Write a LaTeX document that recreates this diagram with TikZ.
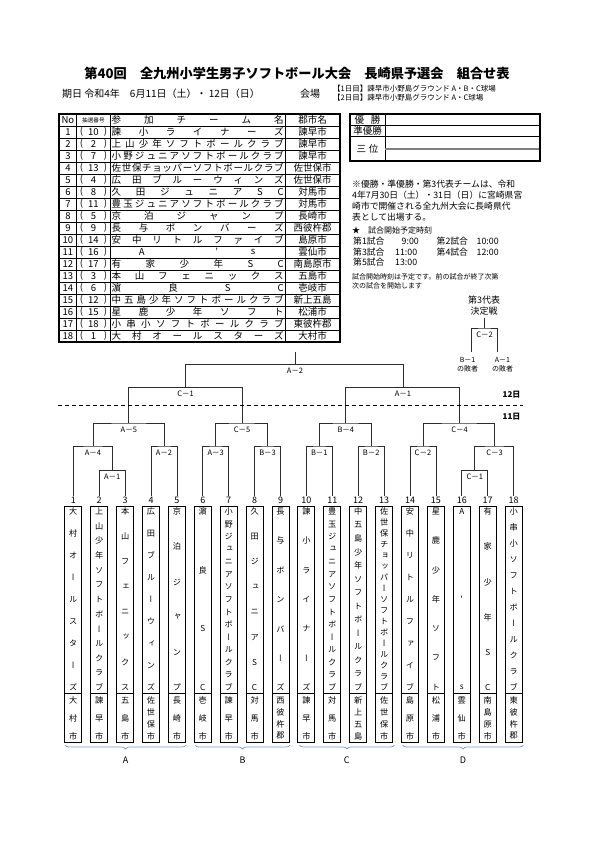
\documentclass[tikz,border=0pt]{standalone}
\usepackage{fontspec}
\setmainfont{Noto Sans CJK JP}
\newfontfamily\jpv[RawFeature={+vert}]{Noto Sans CJK JP}
\usetikzlibrary{calc,decorations.pathreplacing}
\definecolor{brc}{RGB}{125,155,195}
\definecolor{lc}{RGB}{45,45,45}
\def\sprloop#1{\ifx\relax#1\else#1\hfil\expandafter\sprloop\fi}
\newcommand\spr[2][172pt]{\hbox to #1{\sprloop#2\relax\unskip}}
\tikzset{
  tx/.style={inner sep=0pt, font=\fontsize{9.5}{10}\selectfont},
  smalltx/.style={inner sep=0pt, font=\fontsize{8.8}{9}\selectfont, anchor=west},
  br/.style={draw=lc, line width=0.8pt},
  ml/.style={inner sep=0pt, font=\fontsize{7.5}{8}\selectfont},
  num/.style={inner sep=0pt, font=\fontsize{9}{9}\selectfont},
  namebox/.style={draw=black, line width=1pt, minimum width=17pt, minimum height=187pt, inner sep=0pt},
  citybox/.style={draw=black, line width=1pt, minimum width=17pt, minimum height=49pt, inner sep=0pt},
  vch/.style={inner sep=0pt, font=\jpv\fontsize{8.2}{8}\selectfont},
  gridline/.style={draw=black, line width=0.7pt},
  frameline/.style={draw=black, line width=1.2pt},
}
\newcommand\vtext[5]{%
  \foreach \c [count=\n] in {#5} {\xdef\vcnt{\n}}%
  \foreach \c [count=\n] in {#5} {%
    \pgfmathsetmacro\yy{#3+(#4-#3)*(\n-1)/(\vcnt-1)}%
    \node[vch] (v#1-\n) at (#2,\yy) {\c};}%
}
\newcommand\team[3]{%
  \pgfmathsetmacro\tmx{73.3+25.9*(#1-1)}%
  \node[namebox] (b#1) at (\tmx,599.5) {};
  \node[citybox] (c#1) at (\tmx,717.5) {};
  \node[num] (n#1) at (\tmx,500.5) {#1};
  \coordinate (t#1) at (\tmx,496);
  \vtext{n#1}{\tmx}{511.5}{687.5}{#2}
  \vtext{c#1}{\tmx}{700.5}{736}{#3}
}
\newcommand\trow[4]{%
  \pgfmathsetmacro\yy{120+12*#1}%
  \node[tx] (no#1) at (67.9,\yy) {#1};
  \node[tx] (op#1) at (81.5,\yy) {(};
  \node[tx] (dn#1) at (93.4,\yy) {#2};
  \node[tx] (cp#1) at (105.5,\yy) {)};
  \node[tx,anchor=west] (nm#1) at (111.5,\yy) {#3};
  \node[tx] (ct#1) at (312.5,\yy) {#4};
}
\begin{document}
\begin{tikzpicture}[x=1pt,y=-1pt]
\useasboundingbox (0,0) rectangle (595,842);
\fill[white] (0,0) rectangle (595,842);
% title
\node[inner sep=0pt, font=\bfseries\fontsize{13.2}{14}\selectfont] (title) at (297,73) {第40回　全九州小学生男子ソフトボール大会　長崎県予選会　組合せ表};
\node[inner sep=0pt, anchor=west, font=\fontsize{10}{10}\selectfont] (date) at (62,94) {期日 令和4年　6月11日（土）・ 12日（日）};
\node[inner sep=0pt, anchor=west, font=\fontsize{10}{10}\selectfont] (venue) at (300,94) {会場};
\node[inner sep=0pt, anchor=west, font=\fontsize{7.5}{8}\selectfont] (v1) at (333,88.5) {【1日目】諫早市小野島グラウンド A・B・C球場};
\node[inner sep=0pt, anchor=west, font=\fontsize{7.5}{8}\selectfont] (v2) at (333,98) {【2日目】諫早市小野島グラウンド A・C球場};
% table grid
\foreach \k in {1,...,18} {\draw[gridline] (59,{114+12*\k}) -- (340,{114+12*\k});}
\foreach \xx in {76.7,110,285} {\draw[gridline] (\xx,114) -- (\xx,342);}
\draw[frameline] (59,114) rectangle (340,342);
% header
\node[tx] (hno) at (67.9,120) {No};
\node[inner sep=0pt, font=\fontsize{5.6}{6}\selectfont] (hdn) at (93.4,120) {抽選番号};
\node[tx,anchor=west] (hnm) at (111.5,120) {\spr{参加チーム名}};
\node[tx] (hct) at (312.5,120) {郡市名};
% rows
\trow{1}{10}{\spr{諫小ライナーズ}}{諫早市}
\trow{2}{2}{\spr{上山少年ソフトボールクラブ}}{諫早市}
\trow{3}{7}{\spr{小野ジュニアソフトボールクラブ}}{諫早市}
\trow{4}{13}{\spr{佐世保チョッパーソフトボールクラブ}}{佐世保市}
\trow{5}{4}{\spr{広田ブルーウィンズ}}{佐世保市}
\trow{6}{8}{\spr{久田ジュニアSC}}{対馬市}
\trow{7}{11}{\spr{豊玉ジュニアソフトボールクラブ}}{対馬市}
\trow{8}{5}{\spr{京泊ジャンプ}}{長崎市}
\trow{9}{9}{\spr{長与ボンバーズ}}{西彼杵郡}
\trow{10}{14}{\spr{安中リトルファイブ}}{島原市}
\trow{11}{16}{}{雲仙市}
\node[tx] (r11a) at (141.7,252) {A};
\node[tx] (r11b) at (216.7,252) {'};
\node[tx] (r11c) at (253,252) {s};
\trow{12}{17}{\spr{有家少年SC}}{南島原市}
\trow{13}{3}{\spr{本山フェニックス}}{五島市}
\trow{14}{6}{\spr{濵良SC}}{壱岐市}
\trow{15}{12}{\spr{中五島少年ソフトボールクラブ}}{新上五島}
\trow{16}{15}{\spr{星鹿少年ソフト}}{松浦市}
\trow{17}{18}{\spr{小串小ソフトボールクラブ}}{東彼杵郡}
\trow{18}{1}{\spr{大村オールスターズ}}{大村市}
% result box
\draw[gridline] (350,125) -- (540,125);
\draw[gridline] (350,136) -- (540,136);
\draw[gridline] (385,114) -- (385,161);
\draw[draw=gray, line width=1.8pt] (385,149) -- (540,149);
\draw[frameline] (350,114) rectangle (540,161);
\node[tx] (w1) at (367.5,119.5) {\spr[26pt]{優勝}};
\node[tx] (w2) at (367.5,130.5) {準優勝};
\node[tx] (w3) at (367.5,148.5) {\spr[22pt]{三位}};
% notes
\node[smalltx] (n1) at (352,184) {※優勝・準優勝・第3代表チームは、令和};
\node[smalltx] (n2) at (352,195) {4年7月30日（土）・31日（日）に宮崎県宮};
\node[smalltx] (n3) at (352,206) {崎市で開催される全九州大会に長崎県代};
\node[smalltx] (n4) at (352,217) {表として出場する。};
\node[smalltx, font=\fontsize{8}{8}\selectfont] (s0) at (352,230) {★　試合開始予定時刻};
\node[smalltx] (s1) at (353,241.5) {第1試合};
\node[smalltx] (s1t) at (401.5,241.5) {9:00};
\node[smalltx] (s2) at (436.5,241.5) {第2試合};
\node[smalltx] (s2t) at (476.5,241.5) {10:00};
\node[smalltx] (s3) at (353,252) {第3試合};
\node[smalltx] (s3t) at (395,252) {11:00};
\node[smalltx] (s4) at (436.5,252) {第4試合};
\node[smalltx] (s4t) at (476.5,252) {12:00};
\node[smalltx] (s5) at (353,262.5) {第5試合};
\node[smalltx] (s5t) at (395,262.5) {13:00};
\node[smalltx, font=\fontsize{7}{7}\selectfont] (p1) at (352,276.5) {試合開始時刻は予定です。前の試合が終了次第};
\node[smalltx, font=\fontsize{7}{7}\selectfont] (p2) at (352,285.5) {次の試合を開始します};
% third place match
\node[inner sep=0pt, font=\fontsize{9}{9}\selectfont] (tp1) at (484,300) {第3代表};
\node[inner sep=0pt, font=\fontsize{9}{9}\selectfont] (tp2) at (484,311.5) {決定戦};
\coordinate (tptop) at (484.5,318);
\coordinate (tpc) at (484.5,328);
\coordinate (tpl) at (471.7,352);
\coordinate (tpr) at (497.3,352);
\draw[br] (tpl) |- (tpc) -| (tpr);
\draw[br] (tpc) -- (tptop);
\node[ml] (tpm) at (484.5,335) {C－2};
\node[ml, font=\fontsize{7}{7}\selectfont] (tpa) at (467.5,359.5) {B－1};
\node[ml, font=\fontsize{7}{7}\selectfont] (tpb) at (467.5,369) {の敗者};
\node[ml, font=\fontsize{7}{7}\selectfont] (tpc1) at (502.5,359.5) {A－1};
\node[ml, font=\fontsize{7}{7}\selectfont] (tpd) at (502.5,369) {の敗者};
% teams
\team{1}{大,村,オ,ー,ル,ス,タ,ー,ズ}{大,村,市}
\team{2}{上,山,少,年,ソ,フ,ト,ボ,ー,ル,ク,ラ,ブ}{諫,早,市}
\team{3}{本,山,フ,ェ,ニ,ッ,ク,ス}{五,島,市}
\team{4}{広,田,ブ,ル,ー,ウ,ィ,ン,ズ}{佐,世,保,市}
\team{5}{京,泊,ジ,ャ,ン,プ}{長,崎,市}
\team{6}{濵,良,S,C}{壱,岐,市}
\team{7}{小,野,ジ,ュ,ニ,ア,ソ,フ,ト,ボ,ー,ル,ク,ラ,ブ}{諫,早,市}
\team{8}{久,田,ジ,ュ,ニ,ア,S,C}{対,馬,市}
\team{9}{長,与,ボ,ン,バ,ー,ズ}{西,彼,杵,郡}
\team{10}{諫,小,ラ,イ,ナ,ー,ズ}{諫,早,市}
\team{11}{豊,玉,ジ,ュ,ニ,ア,ソ,フ,ト,ボ,ー,ル,ク,ラ,ブ}{対,馬,市}
\team{12}{中,五,島,少,年,ソ,フ,ト,ボ,ー,ル,ク,ラ,ブ}{新,上,五,島}
\team{13}{佐,世,保,チ,ョ,ッ,パ,ー,ソ,フ,ト,ボ,ー,ル,ク,ラ,ブ}{佐,世,保,市}
\team{14}{安,中,リ,ト,ル,フ,ァ,イ,ブ}{島,原,市}
\team{15}{星,鹿,少,年,ソ,フ,ト}{松,浦,市}
\team{16}{A,',s}{雲,仙,市}
\team{17}{有,家,少,年,S,C}{南,島,原,市}
\team{18}{小,串,小,ソ,フ,ト,ボ,ー,ル,ク,ラ,ブ}{東,彼,杵,郡}
% match points
\coordinate (mA1L) at (112.15,470.7);
\coordinate (mC1L) at (474.75,470.7);
\coordinate (mA4) at (92.9,446);
\coordinate (mA2L) at (163.95,446);
\coordinate (mA3) at (215.75,446);
\coordinate (mB3) at (267.55,446);
\coordinate (mB1) at (319.35,446);
\coordinate (mB2) at (371.15,446);
\coordinate (mC2) at (422.95,446);
\coordinate (mC3) at (494.6,446);
\coordinate (mA5) at (128.8,423);
\coordinate (mC5) at (242,423);
\coordinate (mB4) at (345.8,423);
\coordinate (mC4) at (459.5,423);
\coordinate (mC1U) at (185.6,387.7);
\coordinate (mA1U) at (403,387.7);
\coordinate (mA2U) at (295,364.3);
\coordinate (mtop) at (295,352);
\draw[br] (t2) |- (mA1L) -| (t3);
\draw[br] (t16) |- (mC1L) -| (t17);
\draw[br] (t1) |- (mA4) -| (mA1L);
\draw[br] (t4) |- (mA2L) -| (t5);
\draw[br] (t6) |- (mA3) -| (t7);
\draw[br] (t8) |- (mB3) -| (t9);
\draw[br] (t10) |- (mB1) -| (t11);
\draw[br] (t12) |- (mB2) -| (t13);
\draw[br] (t14) |- (mC2) -| (t15);
\draw[br] (mC1L) |- (mC3) -| (t18);
\draw[br] (mA4) |- (mA5) -| (mA2L);
\draw[br] (mA3) |- (mC5) -| (mB3);
\draw[br] (mB1) |- (mB4) -| (mB2);
\draw[br] (mC2) |- (mC4) -| (mC3);
\draw[br] (mA5) |- (mC1U) -| (mC5);
\draw[br] (mB4) |- (mA1U) -| (mC4);
\draw[br] (mC1U) |- (mA2U) -| (mA1U);
\draw[br] (mA2U) -- (mtop);
% match labels
\node[ml] (lA1L) at ($(mA1L)+(0,6)$) {A－1};
\node[ml] (lC1L) at ($(mC1L)+(0,6)$) {C－1};
\node[ml] (lA4) at ($(mA4)+(0,6.5)$) {A－4};
\node[ml] (lA2L) at ($(mA2L)+(0,6.5)$) {A－2};
\node[ml] (lA3) at ($(mA3)+(0,6.5)$) {A－3};
\node[ml] (lB3) at ($(mB3)+(0,6.5)$) {B－3};
\node[ml] (lB1) at ($(mB1)+(0,6.5)$) {B－1};
\node[ml] (lB2) at ($(mB2)+(0,6.5)$) {B－2};
\node[ml] (lC2) at ($(mC2)+(0,6.5)$) {C－2};
\node[ml] (lC3) at ($(mC3)+(0,6.5)$) {C－3};
\node[ml] (lA5) at ($(mA5)+(0,6.5)$) {A－5};
\node[ml] (lC5) at ($(mC5)+(0,6.5)$) {C－5};
\node[ml] (lB4) at ($(mB4)+(0,6.5)$) {B－4};
\node[ml] (lC4) at ($(mC4)+(0,6.5)$) {C－4};
\node[ml] (lC1U) at ($(mC1U)+(0,6.5)$) {C－1};
\node[ml] (lA1U) at ($(mA1U)+(0,6.5)$) {A－1};
\node[ml] (lA2U) at ($(mA2U)+(0,6.5)$) {A－2};
% day divider
\coordinate (dl) at (58,405.7);
\coordinate (dr) at (523,405.7);
\draw[black, line width=1.1pt, dash pattern=on 4pt off 3pt] (dl) -- (dr);
\node[inner sep=0pt, font=\bfseries\fontsize{8}{8}\selectfont] (d12) at (511.5,395) {12日};
\node[inner sep=0pt, font=\bfseries\fontsize{8}{8}\selectfont] (d11) at (511.5,416.7) {11日};
% group braces
\coordinate (gA1) at (65,745); \coordinate (gA2) at (186,745);
\coordinate (gB1) at (195,745); \coordinate (gB2) at (290,745);
\coordinate (gC1) at (299.3,745); \coordinate (gC2) at (394.3,745);
\coordinate (gD1) at (402.7,745); \coordinate (gD2) at (523.3,745);
\foreach \g in {A,B,C,D} {\draw[brc, line width=0.7pt, decorate, decoration={brace, mirror, amplitude=4pt}] (g\g1) -- (g\g2);}
\node[num] (gA) at (125.5,760.5) {A};
\node[num] (gB) at (242.5,760.5) {B};
\node[num] (gC) at (346.8,760.5) {C};
\node[num] (gD) at (463,760.5) {D};
\end{tikzpicture}
\end{document}
